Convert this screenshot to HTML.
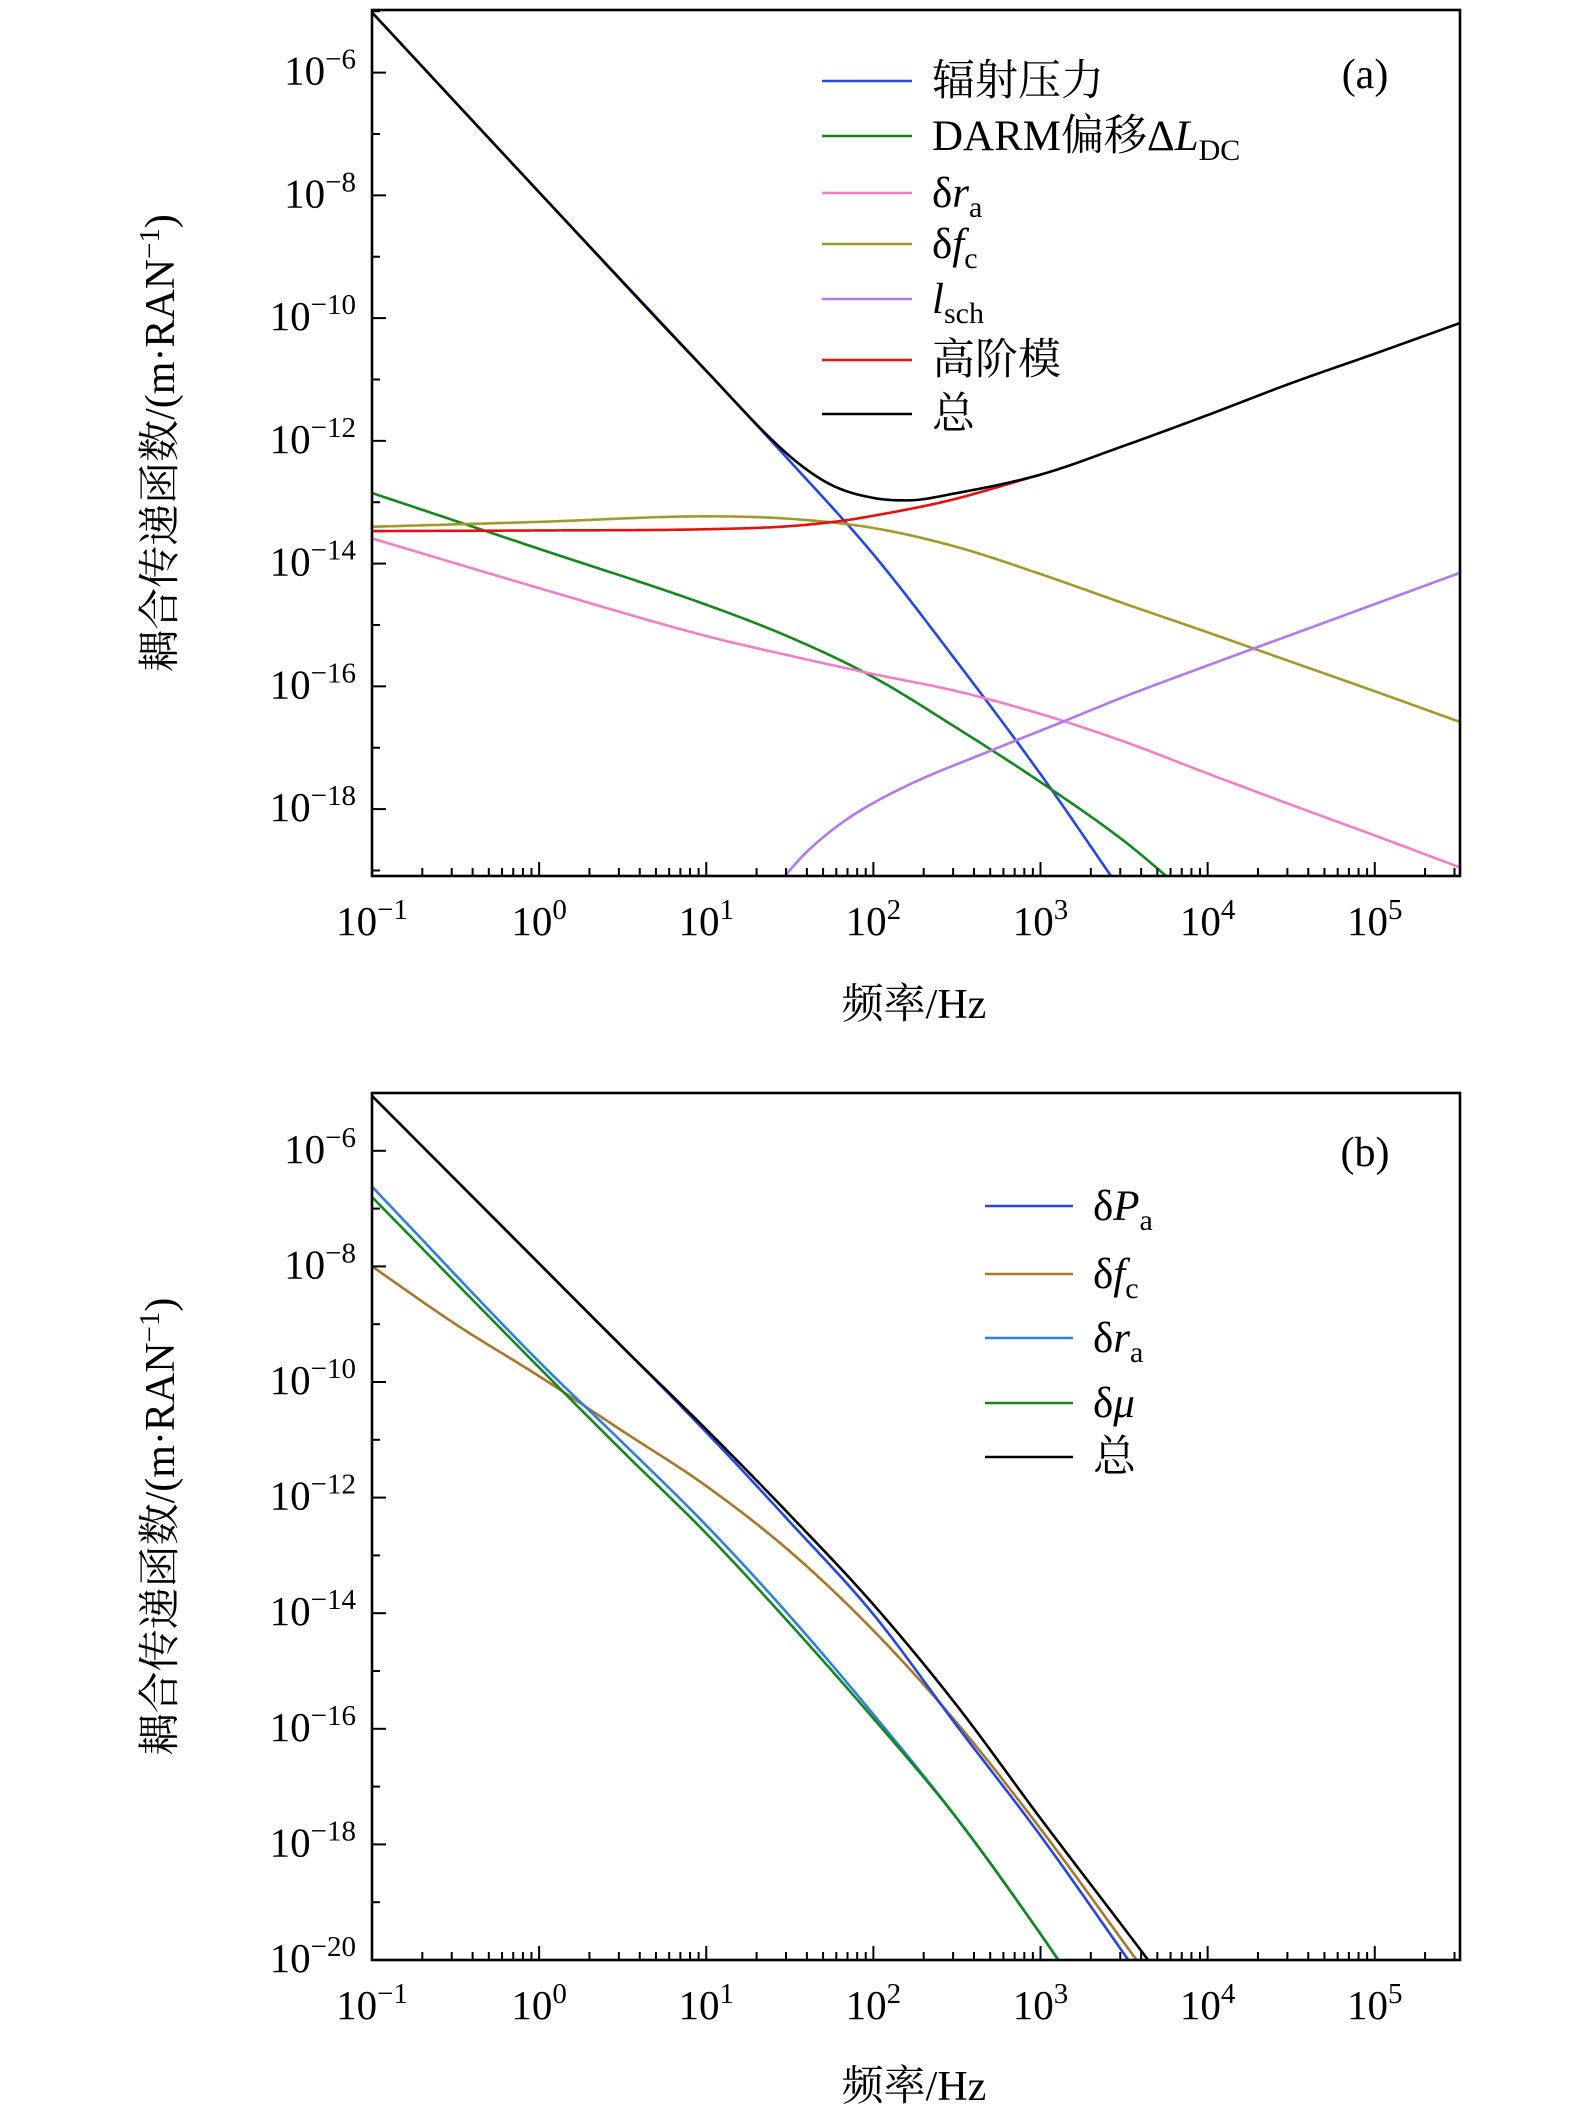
<!DOCTYPE html>
<html><head><meta charset="utf-8">
<style>
html,body{margin:0;padding:0;background:#fff;}
svg{display:block;font-family:"Liberation Serif","Noto Serif CJK SC",serif;}
</style></head>
<body>
<svg id="fig" width="1575" height="2126" viewBox="0 0 1575 2126" xmlns="http://www.w3.org/2000/svg"></svg>
<script>
// ---------- data (log10 frequency, log10 coupling) ----------
// panel (a)
const aRadF = [-1,0,1,1.5,2,2.5,3,3.45];
const aRadY = [-5.02,-7.95,-10.86,-12.33,-13.85,-15.6,-17.43,-19.2];
const aDarmF = [-1,0,1,1.5,2,2.5,3,3.5,3.8];
const aDarmY = [-12.85,-13.76,-14.67,-15.2,-15.85,-16.68,-17.56,-18.52,-19.2];
const aRaF = [-1,0,1,1.5,2,2.5,3,3.5,4,4.5,5,5.51];
const aRaY = [-13.59,-14.4,-15.18,-15.5,-15.8,-16.08,-16.45,-16.9,-17.42,-17.93,-18.43,-18.95];
const aFcF = [-1,0,1,1.5,2,2.5,3,3.5,4,4.5,5,5.51];
const aFcY = [-13.4,-13.32,-13.23,-13.27,-13.42,-13.73,-14.17,-14.65,-15.12,-15.6,-16.08,-16.58];
const aSchF = [1.45,1.6,1.85,2.2,2.71,3.13,3.5,4,4.5,5,5.51];
const aSchY = [-19.15,-18.7,-18.15,-17.62,-17.04,-16.58,-16.17,-15.66,-15.16,-14.66,-14.15];
const aHomF = [-1,0,1,1.5,1.82,2,2.44,3];
const aHomY = [-13.47,-13.46,-13.44,-13.39,-13.3,-13.22,-12.98,-12.55];
const aTotF = [-1,0,1,1.5,1.75,2,2.2,2.5,3,3.5,4,4.5,5,5.51];
const aTotY = [-5.02,-7.95,-10.86,-12.25,-12.72,-12.93,-12.97,-12.85,-12.55,-12.08,-11.58,-11.06,-10.58,-10.08];
// panel (b)
const bPaF = [-1,0,1,1.5,2,2.5,3,3.55];
const bPaY = [-5.05,-7.95,-10.87,-12.42,-14.02,-15.95,-17.85,-20.1];
const bFcF = [-1,-0.5,0,0.5,1,1.5,2,2.5,3,3.6];
const bFcY = [-8.0,-9.0,-9.9,-10.85,-11.8,-12.93,-14.3,-15.9,-17.73,-20.1];
const bRaF = [-1,0,0.5,1,1.5,2,2.5,3,3.13];
const bRaY = [-6.62,-9.65,-11.05,-12.48,-14.05,-15.75,-17.55,-19.55,-20.1];
const bMuF = [-1,0,0.5,1,1.5,2,2.5,3,3.13];
const bMuY = [-6.8,-9.75,-11.2,-12.62,-14.18,-15.82,-17.55,-19.55,-20.1];
const bTotF = [-1,0,0.5,1,1.5,2,2.5,3,3.5,3.67];
const bTotY = [-5.05,-7.95,-9.4,-10.82,-12.3,-13.85,-15.6,-17.55,-19.45,-20.1];
const xTickExps = [-1,0,1,2,3,4,5];
const aYTickExps = [-6,-8,-10,-12,-14,-16,-18];
const bYTickExps = [-6,-8,-10,-12,-14,-16,-18,-20];

const NS="http://www.w3.org/2000/svg";
const svg=document.getElementById('fig');
function el(tag,attrs,parent){const e=document.createElementNS(NS,tag);for(const k in attrs)e.setAttribute(k,attrs[k]);(parent||svg).appendChild(e);return e;}

function monotone(xs,ys){
  const n=xs.length,d=[],m=[];
  for(let i=0;i<n-1;i++)d.push((ys[i+1]-ys[i])/(xs[i+1]-xs[i]));
  m[0]=d[0];m[n-1]=d[n-2];
  for(let i=1;i<n-1;i++){m[i]=(d[i-1]*d[i]<=0)?0:(d[i-1]+d[i])/2;}
  for(let i=0;i<n-1;i++){
    if(d[i]===0){m[i]=0;m[i+1]=0;continue;}
    const a=m[i]/d[i],b=m[i+1]/d[i],s=a*a+b*b;
    if(s>9){const t=3/Math.sqrt(s);m[i]=t*a*d[i];m[i+1]=t*b*d[i];}
  }
  return function(x){
    let i=0;while(i<n-2&&x>xs[i+1])i++;
    const h=xs[i+1]-xs[i],t=(x-xs[i])/h,t2=t*t,t3=t2*t;
    return (2*t3-3*t2+1)*ys[i]+(t3-2*t2+t)*h*m[i]+(-2*t3+3*t2)*ys[i+1]+(t3-t2)*h*m[i+1];
  };
}

function panel(cfg){
  const L=372,R=1460,T=cfg.top,B=cfg.bottom;
  const xmin=-1,xmax=5.51;
  const sx=v=>L+(v-xmin)/(xmax-xmin)*(R-L);
  const sy=v=>T+(cfg.ymax-v)/(cfg.ymax-cfg.ymin)*(B-T);
  const g=el('g',{});
  
  
  const cid='clip'+cfg.id;
  const defs=el('defs',{},g);
  const cp=el('clipPath',{id:cid},defs);
  el('rect',{x:L,y:T,width:R-L,height:B-T},cp);
  const sg=el('g',{'clip-path':'url(#'+cid+')'},g);
  cfg.series.forEach(s=>{
    const f=monotone(s.f,s.y);
    const x0=s.f[0],x1=s.f[s.f.length-1],N=300;
    let d='';
    for(let k=0;k<=N;k++){
      const x=x0+(x1-x0)*k/N;
      d+=(k?'L':'M')+sx(x).toFixed(2)+','+sy(f(x)).toFixed(2);
    }
    const p=el('path',{d:d,fill:'none',stroke:s.color,'stroke-width':2.6,'stroke-linejoin':'round'},sg);
    
    
  });
  const fr=el('rect',{x:L,y:T,width:R-L,height:B-T,fill:'none',stroke:'#000','stroke-width':2.6},g);
  
  
  for(let e=-1;e<=5;e++){
    for(let m=1;m<10;m++){
      const v=e+Math.log10(m); if(v>xmax) break;
      const len=m===1?14:8;
      el('line',{x1:sx(v),x2:sx(v),y1:B,y2:B-len,stroke:'#000','stroke-width':2},g);
    }
  }
  xTickExps.forEach(e=>{
    const t=el('text',{x:sx(e),y:cfg.xlabY,'text-anchor':'middle','font-size':41},g);
    
    
    t.appendChild(document.createTextNode('10'));
    const ts=el('tspan',{dy:-16,'font-size':29},t);ts.textContent=(e<0?'\u2212':'')+Math.abs(e);
  });
  for(let e=Math.ceil(cfg.ymin);e<=cfg.ymax;e++){
    const major=(e%2===0);
    el('line',{x1:L,x2:L+(major?14:8),y1:sy(e),y2:sy(e),stroke:'#000','stroke-width':2},g);
  }
  cfg.yticks.forEach(e=>{
    const t=el('text',{x:356,y:sy(e)+12,'text-anchor':'end','font-size':41},g);
    
    
    t.appendChild(document.createTextNode('10'));
    const ts=el('tspan',{dy:-16,'font-size':29},t);ts.textContent='\u2212'+Math.abs(e);
  });
  const xt=el('text',{x:914,y:cfg.xtitleY,'text-anchor':'middle','font-size':42},g);
  
  
  xt.textContent='频率/Hz';
  const yc=(T+B)/2;
  const yt=el('text',{x:0,y:0,'text-anchor':'middle','font-size':42,transform:'translate(174,'+yc+') rotate(-90)'},g);
  
  
  yt.appendChild(document.createTextNode('耦合传递函数/(m·RAN'));
  const ys=el('tspan',{dy:-15,'font-size':29},yt);ys.textContent='\u22121';
  const ye=el('tspan',{dy:15},yt);ye.textContent=')';
  const pl=el('text',{x:1365,y:cfg.labelY,'text-anchor':'middle','font-size':42},g);
  
  
  pl.textContent=cfg.label;
  cfg.legend.forEach((it,i)=>{
    const y=cfg.legY[i];
    const lg=el('g',{},g);
    
    
    el('line',{x1:cfg.legX1,x2:cfg.legX2,y1:y,y2:y,stroke:it.color,'stroke-width':2.6},lg);
    const t=el('text',{x:cfg.legX2+20,y:y+14,'font-size':43},lg);
    it.parts.forEach(p=>{
      const ts=el('tspan',p.a||{},t);ts.textContent=p.t;
    });
  });
}
const sub=(t)=>({t:t,a:{dy:10,'font-size':30}});
panel({id:'a',name:'panel-a',top:10,bottom:876,ymax:-4.98,ymin:-19.09,yticks:aYTickExps,xlabY:935,xtitleY:1018,labelY:88,label:'(a)',
  series:[
    {key:'radiation-pressure',f:aRadF,y:aRadY,color:'#2546e0'},
    {key:'darm-offset',f:aDarmF,y:aDarmY,color:'#13881c'},
    {key:'delta-ra',f:aRaF,y:aRaY,color:'#f07fc8'},
    {key:'delta-fc',f:aFcF,y:aFcY,color:'#a09a2a'},
    {key:'lsch',f:aSchF,y:aSchY,color:'#b279ef'},
    {key:'higher-order-modes',f:aHomF,y:aHomY,color:'#e8100e'},
    {key:'total',f:aTotF,y:aTotY,color:'#000'}],
  legX1:822,legX2:912,legY:[81,136,193,244,299,360,414],
  legend:[
    {color:'#2546e0',parts:[{t:'辐射压力'}]},
    {color:'#13881c',parts:[{t:'DARM偏移Δ'},{t:'L',a:{'font-style':'italic'}},{t:'DC',a:{dy:10,'font-size':30}}]},
    {color:'#f07fc8',parts:[{t:'δ'},{t:'r',a:{'font-style':'italic'}},sub('a')]},
    {color:'#a09a2a',parts:[{t:'δ'},{t:'f',a:{'font-style':'italic'}},sub('c')]},
    {color:'#b279ef',parts:[{t:'l',a:{'font-style':'italic'}},sub('sch')]},
    {color:'#e8100e',parts:[{t:'高阶模'}]},
    {color:'#000',parts:[{t:'总'}]}]
});
panel({id:'b',name:'panel-b',top:1093,bottom:1960,ymax:-5.0,ymin:-20.0,yticks:bYTickExps,xlabY:2019,xtitleY:2100,labelY:1166,label:'(b)',
  series:[
    {key:'delta-fc',f:bFcF,y:bFcY,color:'#a8782a'},
    {key:'delta-ra',f:bRaF,y:bRaY,color:'#2f7fe0'},
    {key:'delta-mu',f:bMuF,y:bMuY,color:'#13881c'},
    {key:'delta-pa',f:bPaF,y:bPaY,color:'#2546e0'},
    {key:'total',f:bTotF,y:bTotY,color:'#000'}],
  legX1:985,legX2:1073,legY:[1206,1274,1338,1403,1457],
  legend:[
    {color:'#2546e0',parts:[{t:'δ'},{t:'P',a:{'font-style':'italic'}},sub('a')]},
    {color:'#a8782a',parts:[{t:'δ'},{t:'f',a:{'font-style':'italic'}},sub('c')]},
    {color:'#2f7fe0',parts:[{t:'δ'},{t:'r',a:{'font-style':'italic'}},sub('a')]},
    {color:'#13881c',parts:[{t:'δ'},{t:'μ',a:{'font-style':'italic'}}]},
    {color:'#000',parts:[{t:'总'}]}]
});
</script>
</body></html>
